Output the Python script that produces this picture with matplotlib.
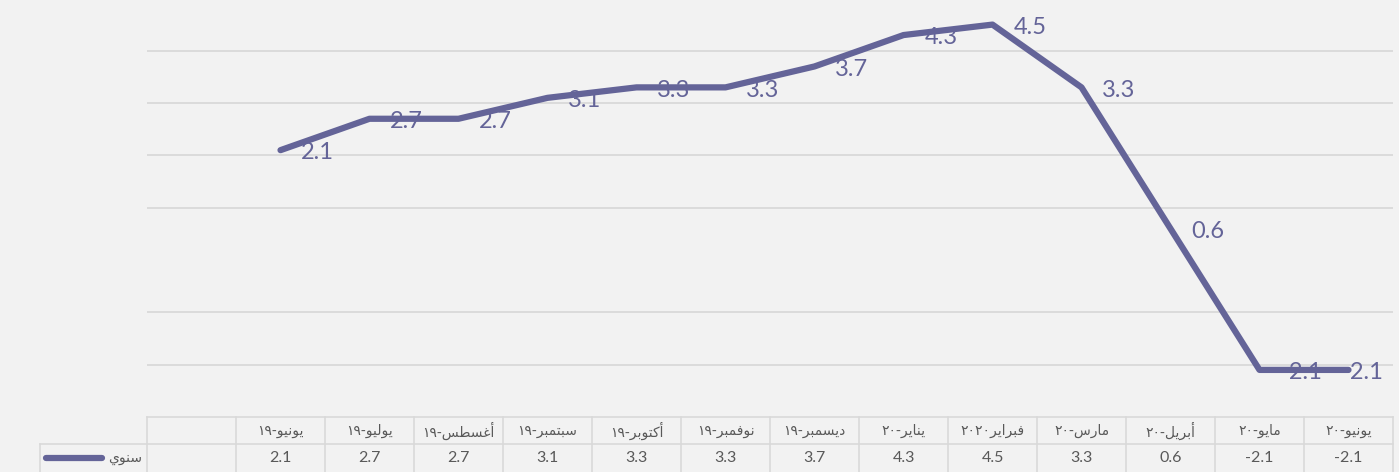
import numpy as np
import matplotlib
matplotlib.use('Agg')
import matplotlib.pyplot as plt
from matplotlib.transforms import blended_transform_factory

# الأشهر (أول خانة فارغة كما في الجدول الأصلي)
months = ['يونيو-١٩', 'يوليو-١٩', 'أغسطس-١٩', 'سبتمبر-١٩', 'أكتوبر-١٩', 'نوفمبر-١٩',
          'ديسمبر-١٩', 'يناير-٢٠', 'فبراير٢٠٢٠', 'مارس-٢٠', 'أبريل-٢٠', 'مايو-٢٠', 'يونيو-٢٠']
annual = [2.1, 2.7, 2.7, 3.1, 3.3, 3.3, 3.7, 4.3, 4.5, 3.3, 0.6, -2.1, -2.1]
series_name = 'سنوي'
grid_levels = [-2, -1, 1, 2, 3, 4]

# أشكال الحروف: (منفصل، نهائي، بداية، وسط)
FORMS = {
    'ا': ('\uFE8D', '\uFE8E', None, None),
    'أ': ('\uFE83', '\uFE84', None, None),
    'ب': ('\uFE8F', '\uFE90', '\uFE91', '\uFE92'),
    'ت': ('\uFE95', '\uFE96', '\uFE97', '\uFE98'),
    'د': ('\uFEA9', '\uFEAA', None, None),
    'ر': ('\uFEAD', '\uFEAE', None, None),
    'س': ('\uFEB1', '\uFEB2', '\uFEB3', '\uFEB4'),
    'ط': ('\uFEC1', '\uFEC2', '\uFEC3', '\uFEC4'),
    'غ': ('\uFECD', '\uFECE', '\uFECF', '\uFED0'),
    'ف': ('\uFED1', '\uFED2', '\uFED3', '\uFED4'),
    'ك': ('\uFED9', '\uFEDA', '\uFEDB', '\uFEDC'),
    'ل': ('\uFEDD', '\uFEDE', '\uFEDF', '\uFEE0'),
    'م': ('\uFEE1', '\uFEE2', '\uFEE3', '\uFEE4'),
    'ن': ('\uFEE5', '\uFEE6', '\uFEE7', '\uFEE8'),
    'و': ('\uFEED', '\uFEEE', None, None),
    'ي': ('\uFEF1', '\uFEF2', '\uFEF3', '\uFEF4'),
}
DIGITS = '٠١٢٣٤٥٦٧٨٩0123456789'


def shape_word(word):
    out = []
    for i, ch in enumerate(word):
        iso, fin, ini, med = FORMS[ch]
        prev_joins = i > 0 and FORMS[word[i - 1]][2] is not None
        next_joins = ini is not None and i < len(word) - 1
        if prev_joins and next_joins:
            out.append(med)
        elif prev_joins:
            out.append(fin)
        elif next_joins:
            out.append(ini)
        else:
            out.append(iso)
    return ''.join(out[::-1])


def kind(ch):
    if ch in FORMS:
        return 'L'
    if ch in DIGITS:
        return 'D'
    return 'N'


def rtl(text):
    # مقاطع: حروف، أرقام، ورموز منفردة ثم عكس الترتيب
    runs = []
    for ch in text:
        k = kind(ch)
        if runs and k != 'N' and runs[-1][1] == k:
            runs[-1][0] += ch
        else:
            runs.append([ch, k])
    return ''.join(shape_word(r) if k == 'L' else r for r, k in runs[::-1])


bg = '#f2f2f2'
line_c = '#646498'
grid_c = '#d9d9d9'
text_c = '#595959'

W, H = 1399, 472
fig = plt.figure(figsize=(W / 100, H / 100), dpi=100, facecolor=bg)
ax = fig.add_axes([147 / W, (H - 417) / H, (1393 - 147) / W, 417 / H])
ax.set_facecolor(bg)

x = np.arange(1, len(annual) + 1)
ax.plot(x, annual, color=line_c, lw=4.5, solid_capstyle='round', solid_joinstyle='round', zorder=3)
for xi, v in zip(x, annual):
    if xi == x[-1]:
        # آخر تسمية تزاح داخل حدود الرسم
        ax.annotate(f'{v:.1f}', (13.5, v), xytext=(-7, -2), textcoords='offset points',
                    ha='right', va='center', fontsize=17, color=line_c, family='Lato', zorder=4)
    else:
        ax.annotate(f'{v:.1f}', (xi, v), xytext=(15, -2), textcoords='offset points',
                    ha='left', va='center', fontsize=17, color=line_c, family='Lato', zorder=4)

ax.set_xlim(-0.5, 13.5)
ax.set_ylim(-3, 4.97)
ax.set_yticks(grid_levels)
ax.grid(axis='y', color=grid_c, lw=1.3)
ax.set_axisbelow(True)
ax.tick_params(left=False, labelleft=False, bottom=False, labelbottom=False)
for s in ax.spines.values():
    s.set_visible(False)

# جدول البيانات أسفل الرسم
tr = blended_transform_factory(ax.transData, fig.transFigure)
y_top = (H - 417) / H
y_mid = (H - 444) / H
y_bot = -0.01
x_lab = -0.5 - (147 - 40) / 89.0
tbl = dict(color=grid_c, lw=1.2, transform=tr, clip_on=False)

ax.plot([-0.5, 13.5], [y_top, y_top], **tbl)
ax.plot([x_lab, 13.5], [y_mid, y_mid], **tbl)
for k in range(len(annual) + 2):
    ax.plot([k - 0.5, k - 0.5], [y_top, y_bot], **tbl)
ax.plot([x_lab, x_lab], [y_mid, y_bot], **tbl)

for xi, m, v in zip(x, months, annual):
    ax.text(xi, (y_top + y_mid) / 2, rtl(m), transform=tr, ha='center', va='center',
            fontsize=10, color=text_c, family='DejaVu Sans')
    ax.text(xi, y_mid / 2, f'{v:.1f}', transform=tr, ha='center', va='center',
            fontsize=11.5, color=text_c, family='Lato')

# مفتاح السلسلة
key_l = -0.5 - (147 - 46) / 89.0
key_r = -0.5 - (147 - 102) / 89.0
ax.plot([key_l, key_r], [y_mid / 2, y_mid / 2], color=line_c, lw=4.5,
        solid_capstyle='round', transform=tr, clip_on=False)
ax.text(-0.5 - 5 / 89.0, y_mid / 2, rtl(series_name), transform=tr, ha='right', va='center',
        fontsize=10, color=text_c, family='DejaVu Sans')

fig.savefig('out.png', dpi=100, facecolor=bg)
